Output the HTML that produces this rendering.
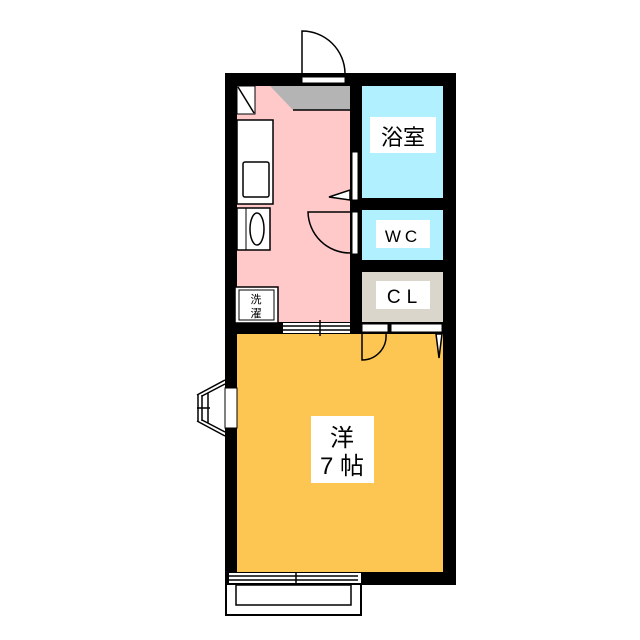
<!DOCTYPE html>
<html><head><meta charset="utf-8"><style>
html,body{margin:0;padding:0;background:#fff;}
svg{display:block;}
text{font-family:"Liberation Sans","Noto Sans CJK JP",sans-serif;}
</style></head><body>
<svg width="640" height="640" viewBox="0 0 640 640" xmlns="http://www.w3.org/2000/svg">
<rect width="640" height="640" fill="#fff"/>
<!-- balcony -->
<rect x="226" y="583" width="135" height="32" fill="#fff" stroke="#000" stroke-width="2"/>
<rect x="236" y="585" width="115" height="20" fill="none" stroke="#000" stroke-width="1.5"/>
<!-- outer walls -->
<rect x="225" y="73" width="231" height="512" fill="#000"/>
<!-- rooms -->
<rect x="237" y="86" width="113" height="236" fill="#ffc9c9"/>
<rect x="362" y="86" width="81" height="112" fill="#b0f0ff"/>
<rect x="362" y="210" width="81" height="50" fill="#b0f0ff"/>
<rect x="362" y="272" width="81" height="50" fill="#dbd6cb"/>
<rect x="237" y="334" width="206" height="238" fill="#fdc653"/>
<!-- bottom wall: right part only thick; left part has window -->
<rect x="229" y="573" width="132" height="10" fill="#fff"/>
<line x1="229" y1="576" x2="358" y2="576" stroke="#000" stroke-width="1.5"/>
<line x1="229" y1="580" x2="358" y2="580" stroke="#000" stroke-width="1.5"/>
<line x1="296" y1="572" x2="296" y2="584" stroke="#000" stroke-width="1.5"/>
<!-- kitchen top gray -->
<polygon points="270,86 350,86 350,110 293,110" fill="#b4b4b4"/>
<line x1="293" y1="110" x2="350" y2="110" stroke="#000" stroke-width="1.5"/>
<rect x="237" y="86" width="18" height="28" fill="#fff" stroke="#000" stroke-width="1"/>
<line x1="238" y1="87" x2="254" y2="113" stroke="#000" stroke-width="1.5"/>
<!-- entrance door -->
<rect x="302" y="77" width="43" height="6" fill="#fff" stroke="#000" stroke-width="1"/>
<path d="M302,73 L302,31 A43,43 0 0 1 345,73" fill="#fff" stroke="#000" stroke-width="1.5"/>
<!-- sink counter -->
<rect x="237" y="120" width="36" height="84" fill="#fff" stroke="#000" stroke-width="1.5"/>
<rect x="243" y="162" width="26" height="35" rx="2" fill="#fff" stroke="#000" stroke-width="1.5"/>
<!-- basin -->
<rect x="237" y="208" width="33" height="42" fill="#fff" stroke="#000" stroke-width="1.5"/>
<line x1="246" y1="208" x2="246" y2="250" stroke="#000" stroke-width="1"/>
<ellipse cx="257" cy="229" rx="7" ry="16" fill="#fff" stroke="#000" stroke-width="1.5"/>
<!-- washer -->
<rect x="235" y="287" width="43" height="36" fill="#fff" stroke="#000" stroke-width="1.5"/>
<rect x="239" y="290" width="35" height="30" fill="#fff" stroke="#000" stroke-width="1"/>
<text x="256" y="303" font-size="11" text-anchor="middle">洗</text>
<text x="256" y="317" font-size="11" text-anchor="middle">濯</text>
<!-- bath/WC doors in partition -->
<rect x="352" y="152" width="6" height="48" fill="#fff" stroke="#000" stroke-width="1"/>
<polygon points="350,190 350,200 329,197" fill="#fff" stroke="#000" stroke-width="1.5"/>
<rect x="352" y="212" width="6" height="42" fill="#fff" stroke="#000" stroke-width="1"/>
<path d="M350,212 L308,212 A42,42 0 0 0 350,253" fill="none" stroke="#000" stroke-width="1.5"/>
<!-- kitchen/room sliding door -->
<rect x="283" y="323" width="67" height="10" fill="#fff"/>
<line x1="283" y1="326" x2="350" y2="326" stroke="#000" stroke-width="1.5"/>
<line x1="283" y1="330" x2="350" y2="330" stroke="#000" stroke-width="1.5"/>
<line x1="320" y1="320" x2="320" y2="336" stroke="#000" stroke-width="1.5"/>
<!-- CL doors -->
<rect x="362" y="324" width="26" height="8" fill="#fff" stroke="#000" stroke-width="1"/>
<rect x="391" y="324" width="51" height="8" fill="#fff" stroke="#000" stroke-width="1"/>
<path d="M362,334 L362,360 A24,24 0 0 0 386,334" fill="none" stroke="#000" stroke-width="1.5"/>
<polygon points="436,334 442,334 439,358" fill="#fff" stroke="#000" stroke-width="1.5"/>
<!-- left window -->
<rect x="225" y="388" width="12" height="40" fill="#fff" stroke="#000" stroke-width="1"/>
<g stroke="#000" stroke-width="1.5" fill="none">
<line x1="225" y1="380" x2="197" y2="395"/>
<line x1="225" y1="384" x2="202" y2="396"/>
<line x1="225" y1="436" x2="197" y2="421"/>
<line x1="225" y1="432" x2="202" y2="420"/>
<line x1="198" y1="395" x2="198" y2="421"/>
<line x1="202" y1="395" x2="202" y2="421"/>
<line x1="208" y1="393" x2="208" y2="423"/>
<line x1="197" y1="408" x2="210" y2="408"/>
</g>
<!-- labels -->
<rect x="370" y="117" width="66" height="36" fill="#fff"/>
<text x="403" y="145" font-size="22" text-anchor="middle">浴室</text>
<rect x="376" y="220" width="54" height="28" fill="#fff"/>
<text x="403" y="242" font-size="17" text-anchor="middle" letter-spacing="4">WC</text>
<rect x="376" y="281" width="54" height="28" fill="#fff"/>
<text x="405" y="303" font-size="19" text-anchor="middle" letter-spacing="6">CL</text>
<rect x="311" y="416" width="63" height="67" fill="#fff"/>
<text x="342" y="446" font-size="24" text-anchor="middle">洋</text>
<text x="342" y="474" font-size="24" text-anchor="middle">7 帖</text>
</svg>
</body></html>
